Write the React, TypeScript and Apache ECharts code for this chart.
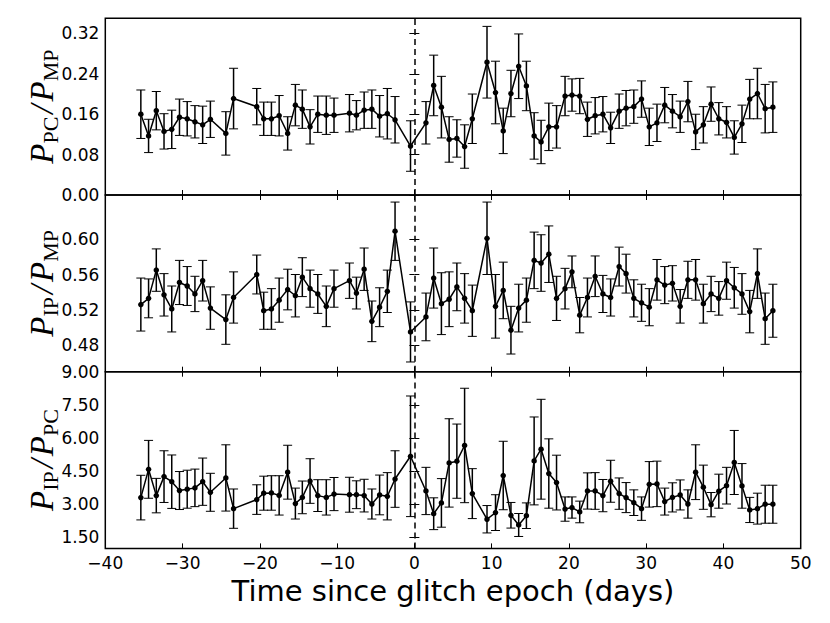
import React, { useEffect, useRef } from "react";
import * as echarts from "echarts";

const days = [-35.4,-34.4,-33.4,-32.4,-31.4,-30.4,-29.4,-28.4,-27.4,-26.4,-24.4,-23.4,-20.4,-19.5,-18.5,-17.5,-16.4,-15.4,-14.5,-13.5,-12.5,-11.4,-10.4,-8.4,-7.5,-6.5,-5.5,-4.5,-3.5,-2.5,-0.5,1.5,2.5,3.5,4.5,5.5,6.5,7.5,9.4,10.5,11.5,12.5,13.5,14.5,15.5,16.4,17.4,18.4,19.5,20.4,21.4,22.4,23.4,24.4,25.4,26.5,27.4,28.4,29.4,30.4,31.4,32.4,33.4,34.4,35.4,36.4,37.4,38.4,39.4,40.4,41.4,42.4,43.4,44.4,45.4,46.4];

const pcMp = [0.160,0.117,0.167,0.126,0.130,0.154,0.151,0.145,0.139,0.150,0.122,0.191,0.175,0.151,0.151,0.157,0.122,0.178,0.170,0.135,0.160,0.158,0.158,0.162,0.158,0.168,0.170,0.156,0.161,0.149,0.097,0.143,0.217,0.174,0.110,0.112,0.096,0.151,0.263,0.203,0.127,0.201,0.255,0.216,0.117,0.105,0.135,0.135,0.196,0.198,0.196,0.150,0.157,0.160,0.133,0.166,0.172,0.175,0.190,0.135,0.143,0.178,0.166,0.155,0.185,0.125,0.139,0.180,0.151,0.144,0.114,0.141,0.190,0.201,0.171,0.174];
const pcMpErr = [0.048,0.033,0.038,0.035,0.038,0.036,0.034,0.032,0.037,0.036,0.043,0.060,0.036,0.033,0.033,0.040,0.033,0.041,0.038,0.034,0.036,0.038,0.034,0.037,0.029,0.036,0.038,0.041,0.050,0.046,0.050,0.042,0.060,0.061,0.045,0.037,0.043,0.049,0.071,0.062,0.045,0.046,0.064,0.049,0.046,0.043,0.047,0.042,0.039,0.032,0.035,0.034,0.036,0.035,0.031,0.034,0.035,0.033,0.036,0.037,0.037,0.035,0.033,0.031,0.040,0.035,0.036,0.034,0.032,0.031,0.033,0.037,0.039,0.050,0.048,0.050];

const ipMp = [0.526,0.533,0.565,0.537,0.521,0.551,0.547,0.538,0.553,0.522,0.509,0.534,0.560,0.519,0.521,0.531,0.543,0.536,0.557,0.544,0.538,0.524,0.544,0.553,0.539,0.566,0.507,0.523,0.541,0.609,0.495,0.512,0.556,0.527,0.532,0.546,0.533,0.519,0.601,0.524,0.542,0.497,0.522,0.531,0.576,0.573,0.583,0.533,0.544,0.563,0.514,0.534,0.558,0.538,0.534,0.569,0.561,0.533,0.528,0.523,0.554,0.548,0.550,0.524,0.554,0.554,0.527,0.538,0.533,0.553,0.545,0.538,0.518,0.561,0.510,0.519];
const ipMpErr = [0.030,0.022,0.024,0.024,0.026,0.025,0.022,0.020,0.023,0.024,0.028,0.029,0.022,0.021,0.023,0.025,0.023,0.024,0.022,0.021,0.022,0.023,0.021,0.020,0.018,0.024,0.023,0.022,0.024,0.033,0.034,0.027,0.034,0.035,0.031,0.027,0.028,0.029,0.041,0.036,0.032,0.027,0.027,0.025,0.032,0.032,0.032,0.025,0.023,0.018,0.020,0.022,0.023,0.021,0.021,0.022,0.022,0.021,0.021,0.021,0.023,0.021,0.020,0.019,0.021,0.023,0.022,0.020,0.019,0.021,0.023,0.023,0.024,0.028,0.029,0.030];

const ipPc = [3.30,4.58,3.39,4.25,4.02,3.62,3.68,3.74,4.02,3.54,4.19,2.80,3.21,3.50,3.51,3.40,4.45,3.03,3.31,4.05,3.39,3.31,3.46,3.43,3.43,3.39,3.01,3.42,3.36,4.14,5.17,3.60,2.57,3.06,4.87,4.95,5.66,3.48,2.32,2.62,4.30,2.50,2.06,2.48,4.96,5.49,4.39,3.98,2.78,2.85,2.65,3.60,3.60,3.39,4.04,3.48,3.30,3.07,2.80,3.90,3.92,3.12,3.31,3.42,3.01,4.45,3.77,2.98,3.59,3.84,4.89,3.83,2.74,2.80,3.00,3.00];
const ipPcErr = [1.01,1.31,0.78,1.17,1.21,0.86,0.86,0.85,1.07,0.86,1.50,0.89,0.67,0.77,0.78,0.89,1.22,0.70,0.74,1.01,0.72,0.80,0.75,0.79,0.63,0.74,0.68,0.90,1.07,1.28,2.73,1.07,0.72,1.10,2.00,1.68,2.59,1.13,0.62,0.81,1.55,0.58,0.52,0.58,1.99,2.26,1.57,1.24,0.55,0.48,0.49,0.82,0.83,0.73,0.95,0.71,0.68,0.58,0.53,1.03,1.03,0.61,0.66,0.68,0.64,1.24,1.00,0.55,0.77,0.83,1.45,1.01,0.57,0.70,0.86,0.86];

const xTicks = [-40, -30, -20, -10, 0, 10, 20, 30, 40, 50];
const yTicksTop = [0, 0.08, 0.16, 0.24, 0.32];
const yTicksMid = [0.48, 0.52, 0.56, 0.6];
const yTicksBot = [1.5, 3, 4.5, 6, 7.5, 9];

const panels = [
  { vals: pcMp, errs: pcMpErr, min: 0, max: 0.35, ticks: yTicksTop, sub1: "PC", sub2: "MP" },
  { vals: ipMp, errs: ipMpErr, min: 0.45, max: 0.65, ticks: yTicksMid, sub1: "IP", sub2: "MP" },
  { vals: ipPc, errs: ipPcErr, min: 1, max: 9, ticks: yTicksBot, sub1: "IP", sub2: "PC" },
];

const GRID_LEFT = 105.3;
const GRID_RIGHT = 29.3;
const GRID_TOP = 18.3;
const GRID_H = 176.7;

export default function App() {
  const ref = useRef<HTMLDivElement>(null);
  useEffect(() => {
    if (!ref.current) return;
    const chart = echarts.init(ref.current, null, { renderer: "svg" });
    const font = "DejaVu Sans";
    const grids: any[] = [];
    const xAxes: any[] = [];
    const yAxes: any[] = [];
    const series: any[] = [];
    const tickStyle = { show: true, inside: true, length: 5, lineStyle: { color: "#000", width: 1 } };
    panels.forEach((p, i) => {
      grids.push({
        left: GRID_LEFT, right: GRID_RIGHT, top: GRID_TOP + i * GRID_H, height: GRID_H,
        show: true, borderColor: "#000", borderWidth: 1.5, backgroundColor: "transparent",
      });
      const isBottom = i === panels.length - 1;
      xAxes.push({
        type: "value", gridIndex: i, position: "bottom", min: -40, max: 50, interval: 10,
        axisLine: { show: false }, splitLine: { show: false },
        axisTick: { ...tickStyle, customValues: xTicks },
        axisLabel: {
          show: isBottom, customValues: xTicks, color: "#000", fontSize: 17, fontFamily: font, margin: 6,
          formatter: (v: number) => (v < 0 ? "\u2212" + Math.abs(v) : String(v)),
        },
        name: isBottom ? "Time since glitch epoch (days)" : "",
        nameLocation: "middle", nameGap: 28,
        nameTextStyle: { fontSize: 29, fontFamily: font, color: "#000" },
      });
      xAxes.push({
        type: "value", gridIndex: i, position: "top", min: -40, max: 50, interval: 10,
        axisLine: { show: false }, splitLine: { show: false },
        axisTick: { ...tickStyle, customValues: xTicks }, axisLabel: { show: false },
      });
      yAxes.push({
        type: "value", gridIndex: i, position: "left", min: p.min, max: p.max,
        axisLine: { show: false }, splitLine: { show: false },
        axisTick: { ...tickStyle, customValues: p.ticks },
        axisLabel: {
          customValues: p.ticks, color: "#000", fontSize: 17, fontFamily: font, margin: 6,
          formatter: (v: number) => v.toFixed(2),
        },
        name: `{p|P}{s|${p.sub1}}{sl|/}{p|P}{s|${p.sub2}}`,
        nameLocation: "middle", nameRotate: 90, nameGap: 48, nameMoveOverlap: false,
        nameTextStyle: {
          rich: {
            p: { fontFamily: "Liberation Serif", fontStyle: "italic", fontSize: 33, lineHeight: 32, verticalAlign: "top", color: "#000" },
            s: { fontFamily: "Liberation Serif", fontSize: 22, lineHeight: 22, verticalAlign: "top", padding: [14, 0, 0, 0], color: "#000" },
            sl: { fontFamily: "Liberation Serif", fontStyle: "italic", fontSize: 33, lineHeight: 32, verticalAlign: "top", padding: [0, 3, 0, 3], color: "#000" },
          },
        },
      });
      yAxes.push({
        type: "value", gridIndex: i, position: "right", min: p.min, max: p.max,
        axisLine: { show: false }, splitLine: { show: false },
        axisTick: { ...tickStyle, customValues: p.ticks }, axisLabel: { show: false },
      });
      const lineData = days.map((d, k) => [d, p.vals[k]]);
      const errData = days.map((d, k) => [d, p.vals[k] - p.errs[k], p.vals[k] + p.errs[k]]);
      series.push({
        type: "custom", xAxisIndex: 2 * i, yAxisIndex: 2 * i, data: errData,
        encode: { x: 0, y: [1, 2] },
        renderItem: (params: any, api: any) => {
          const x = api.value(0);
          const top = api.coord([x, api.value(2)]);
          const bot = api.coord([x, api.value(1)]);
          const w = 4.5;
          return {
            type: "group",
            children: [
              { type: "line", shape: { x1: top[0], y1: top[1], x2: bot[0], y2: bot[1] }, style: { stroke: "#000", lineWidth: 1.5 } },
              { type: "line", shape: { x1: top[0] - w, y1: top[1], x2: top[0] + w, y2: top[1] }, style: { stroke: "#000", lineWidth: 1 } },
              { type: "line", shape: { x1: bot[0] - w, y1: bot[1], x2: bot[0] + w, y2: bot[1] }, style: { stroke: "#000", lineWidth: 1 } },
            ],
          };
        },
        z: 2,
      });
      series.push({
        type: "line", xAxisIndex: 2 * i, yAxisIndex: 2 * i, data: lineData,
        symbol: "circle", symbolSize: 5.5, showSymbol: true,
        itemStyle: { color: "#000" }, lineStyle: { color: "#000", width: 1.5 },
        z: 3,
        markLine: {
          silent: true, symbol: "none", label: { show: false },
          lineStyle: { color: "#000", width: 1.5, type: [6, 4] },
          data: [{ xAxis: 0 }],
        },
      });
    });
    chart.setOption({
      animation: false,
      backgroundColor: "#fff",
      grid: grids,
      xAxis: xAxes,
      yAxis: yAxes,
      series,
    });
    return () => chart.dispose();
  }, []);
  return <div ref={ref} style={{ position: "absolute", left: 0, top: 0, width: 830, height: 623 }} />;
}
